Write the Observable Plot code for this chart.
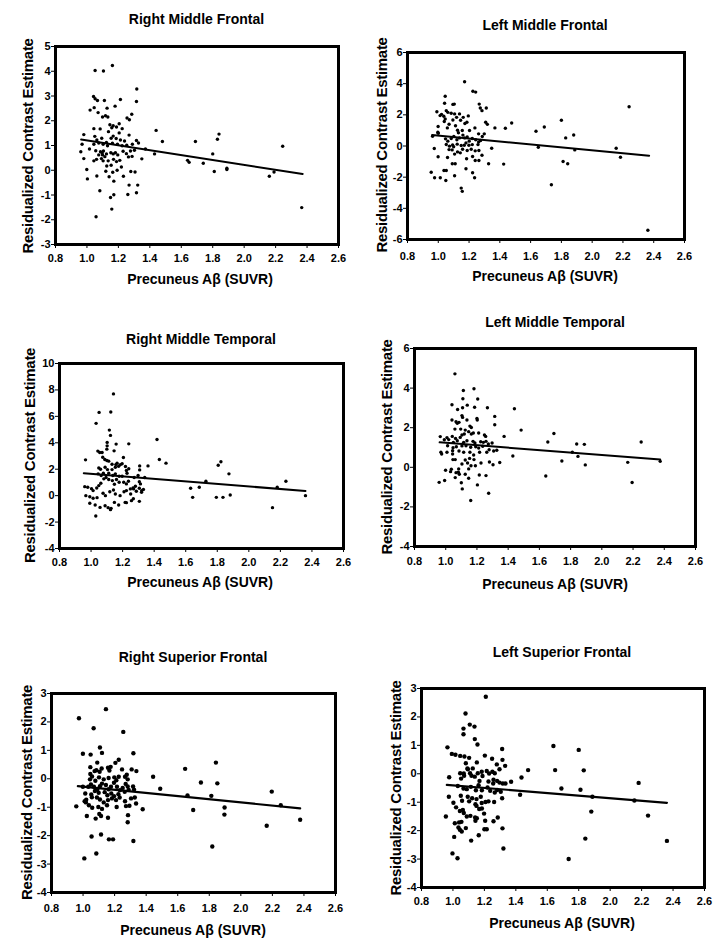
<!DOCTYPE html>
<html><head><meta charset="utf-8">
<script src="https://cdn.jsdelivr.net/npm/d3@7"></script>
<script src="https://cdn.jsdelivr.net/npm/@observablehq/plot@0.6"></script>
<style>
body{margin:0;background:#fff;}
#page{position:relative;width:724px;height:952px;overflow:hidden;background:#fff;}
#page svg.panel{position:absolute;overflow:visible;}
#overlay{position:absolute;left:0;top:0;pointer-events:none;}
</style></head><body><div id="page"></div>
<script>
// ---- shared tick labels / text ----
const xTicks = [0.8, 1.0, 1.2, 1.4, 1.6, 1.8, 2.0, 2.2, 2.4, 2.6];
const xLabel = "Precuneus Aβ (SUVR)";
const yLabel = "Residualized Contrast Estimate";
const titles = ["Right Middle Frontal", "Left Middle Frontal", "Right Middle Temporal", "Left Middle Temporal", "Right Superior Frontal", "Left Superior Frontal"];

// ---- Right Middle Frontal ----
const rmfTicks = [-3, -2, -1, 0, 1, 2, 3, 4, 5];
const rmfFit = [[0.963, 1.24], [2.372, -0.15]];
const rmfPoints = [[1.162,4.23],[1.052,4.03],[1.105,4.01],[1.317,3.28],[1.042,2.98],[1.052,2.89],[1.067,2.82],[1.111,2.82],[1.213,2.86],[1.315,2.78],[1.179,2.59],[1.128,2.51],[1.020,2.43],[1.046,2.53],[1.071,2.33],[1.285,2.26],[1.118,2.20],[1.099,2.15],[1.133,2.15],[1.255,2.11],[1.270,2.04],[1.146,1.84],[1.167,1.80],[1.205,1.88],[1.158,1.72],[1.188,1.75],[1.044,1.68],[1.084,1.67],[1.224,1.68],[1.137,1.56],[1.205,1.51],[0.980,1.44],[1.050,1.37],[1.167,1.38],[1.268,1.42],[1.315,1.20],[1.328,1.10],
[1.063,1.22],[1.094,1.29],[1.124,1.12],[1.154,1.29],[1.186,1.28],[1.213,1.22],[1.239,1.18],[1.044,1.05],[1.075,1.10],[1.103,1.05],[1.131,0.99],[1.162,1.09],[1.194,1.05],[1.224,0.99],[1.253,1.01],[1.289,1.05],[0.969,1.05],[0.961,0.75],[1.016,0.86],[1.056,0.79],[1.086,0.75],[1.097,0.70],[1.105,0.78],[1.099,0.62],[1.114,0.55],[1.075,0.62],[1.124,0.66],[1.152,0.71],[1.167,0.66],[1.181,0.71],[1.196,0.62],[1.230,0.77],[1.251,0.67],[1.277,0.78],[1.302,0.81],[0.980,0.47],[1.044,0.38],[1.061,0.44],[1.092,0.47],[1.103,0.38],[1.135,0.38],[1.169,0.44],[1.188,0.35],[1.209,0.40],[1.264,0.54],[1.287,0.56],[1.349,0.46],[0.999,0.03],[1.126,0.17],[1.154,0.20],[1.192,0.0],[1.219,0.13],[1.003,-0.35],[1.063,-0.23],[1.120,-0.04],[1.141,-0.26],[1.164,-0.08],[1.171,-0.44],[1.232,-0.24],[1.279,-0.05],[1.306,-0.07],[1.082,-0.83],[1.268,-0.60],[1.323,-0.60],[1.171,-0.99],[1.150,-1.10],[1.260,-0.98],[1.315,-0.91],[1.158,-1.57],[1.058,-1.88],
[1.372,0.86],[1.43,0.66],[1.44,1.61],[1.48,1.16],[1.64,0.40],[1.65,0.32],[1.69,1.16],[1.74,0.28],[1.80,0.66],[1.81,-0.05],[1.83,1.25],[1.84,1.46],[1.89,0.08],[1.89,0.03],[2.16,-0.24],[2.19,-0.07],[2.245,0.97],[2.366,-1.51]];

// ---- Left Middle Frontal ----
const lmfTicks = [-6, -4, -2, 0, 2, 4, 6];
const lmfFit = [[0.96, 0.70], [2.37, -0.62]];
const lmfPoints = [[1.171,4.12],[1.225,3.51],[1.243,3.46],[1.045,3.19],[1.041,2.74],[1.095,2.67],[1.104,2.69],[1.266,2.69],[1.273,2.44],[1.284,2.27],[1.312,2.44],[0.991,2.20],[1.052,2.27],[1.062,2.16],[1.021,2.03],[1.036,1.91],[1.045,1.74],[1.039,1.57],[1.084,2.10],[1.106,2.06],[1.119,1.84],[1.095,1.67],[1.138,2.06],[1.162,1.84],[1.145,1.65],[1.195,1.93],[1.173,1.44],[1.186,1.52],[0.999,1.25],[1.059,1.16],[1.070,1.40],[1.125,1.01],[1.156,0.99],[1.203,0.99],[1.238,1.16],[1.262,0.78],[1.299,0.78],[1.308,1.52],[1.319,1.39],[0.997,0.88],[0.963,0.63],[1.0,0.82],[1.047,0.46],[1.062,0.31],[1.084,0.48],[1.101,0.61],[1.121,0.40],[1.138,0.52],[1.171,0.52],[1.188,0.58],[1.201,0.31],[1.221,0.48],[1.243,0.40],[1.275,0.35],[1.286,0.61],[1.073,-0.01],[1.093,0.07],[1.123,0.12],[1.149,0.03],[1.169,0.05],[1.199,0.05],[1.221,0.09],[1.258,0.09],[1.07,-0.23],[1.09,-0.25],[0.974,-0.16],[1.158,-0.21],[1.188,-0.29],[1.214,-0.21],[1.240,-0.31],[1.264,-0.29],[1.347,-0.14],[0.999,-0.69],[1.060,-0.74],[1.106,-0.52],[1.125,-0.38],[1.143,-0.44],[1.184,-0.82],[1.223,-0.67],[1.240,-0.93],[1.264,-0.93],[1.284,-0.59],[1.091,-1.14],[1.110,-1.14],[1.327,-1.14],[1.180,-1.46],[0.954,-1.68],[0.976,-2.04],[1.013,-2.04],[1.037,-1.57],[1.052,-1.57],[1.049,-2.21],[1.106,-1.91],[1.223,-1.72],[1.236,-2.04],[1.149,-2.70],[1.156,-2.91],[1.012,1.95],[1.112,1.30],[1.131,0.85],[1.180,0.20],[1.052,0.10],[1.100,-0.05],[1.160,0.70],[1.262,0.25],
[1.368,1.16],[1.425,-1.16],[1.436,1.14],[1.477,1.48],[1.635,0.95],[1.650,-0.08],[1.689,1.22],[1.735,-2.49],[1.80,1.65],[1.811,-0.99],[1.828,0.52],[1.841,-1.14],[1.880,0.71],[1.887,-0.25],[2.156,-0.14],[2.184,-0.72],[2.240,2.52],[2.362,-5.41]];

// ---- Right Middle Temporal ----
const rmtTicks = [-4, -2, 0, 2, 4, 6, 8, 10];
const rmtFit = [[0.954, 1.70], [2.359, 0.35]];
const rmtPoints = [[1.142,7.70],[1.051,6.30],[1.125,6.33],[1.032,5.47],[1.116,4.96],[1.123,4.56],[1.239,3.92],[1.102,4.03],[1.102,3.77],[1.100,3.52],[1.159,3.90],[1.043,3.37],[1.055,3.27],[1.070,3.27],[1.146,3.39],[1.074,2.91],[1.087,2.73],[0.965,2.71],[1.205,2.89],[1.100,2.66],[1.112,2.61],[1.133,2.38],[1.157,2.35],[1.165,2.46],[1.186,2.35],[1.197,2.41],[1.218,2.20],[1.049,2.10],[1.060,2.0],[1.089,2.15],[1.104,1.97],[1.133,1.97],[1.154,2.15],[1.175,2.23],[1.224,1.90],[1.239,2.03],[1.308,2.25],[1.308,1.95],[1.045,1.65],[1.064,1.52],[1.078,1.70],[1.112,1.70],[1.138,1.52],[1.154,1.65],[1.178,1.47],[1.197,1.47],[1.228,1.70],[1.273,1.37],[1.298,1.52],[1.340,1.37],[0.960,0.68],[0.979,0.63],[1.003,0.53],[1.013,0.38],[1.036,0.58],[1.049,0.76],[1.062,0.94],[1.081,1.27],[1.095,1.37],[1.112,1.22],[1.135,1.14],[1.148,0.86],[1.161,1.22],[1.178,1.01],[1.207,1.01],[1.224,0.89],[1.237,1.09],[1.249,0.51],[1.266,0.58],[1.281,0.71],[1.306,0.56],[1.313,0.89],[1.306,1.05],[0.967,0.0],[0.992,-0.08],[1.013,-0.20],[1.038,-0.15],[1.076,0.18],[1.091,0.0],[1.119,0.30],[1.142,0.43],[1.154,0.13],[1.184,0.0],[1.209,0.30],[1.224,0.38],[1.251,0.13],[1.270,0.51],[1.287,0.33],[1.321,0.38],[1.332,0.46],[0.992,-0.58],[1.026,-0.71],[1.057,-0.89],[1.089,-0.76],[1.108,-0.91],[1.127,-0.96],[1.148,-0.51],[1.175,-0.71],[1.216,-0.51],[1.224,-0.53],[1.256,-0.38],[1.268,-0.23],[1.306,-0.43],[1.030,-1.54],[1.32,0.25],[1.123,-1.06],
[1.361,2.25],[1.418,4.25],[1.433,2.73],[1.475,2.46],[1.631,0.56],[1.644,-0.13],[1.686,0.63],[1.728,1.09],[1.794,-0.13],[1.806,2.30],[1.823,2.56],[1.836,-0.13],[1.874,1.65],[1.882,0.05],[2.150,-0.91],[2.180,0.63],[2.235,1.09],[2.359,0.0]];

// ---- Left Middle Temporal ----
const lmtTicks = [-4, -2, 0, 2, 4, 6];
const lmtFit = [[0.961, 1.26], [2.374, 0.40]];
const lmtPoints = [[1.059,4.72],[1.113,3.88],[1.181,3.97],[1.110,3.46],[1.205,3.45],[1.040,3.16],[1.076,2.92],[1.108,3.01],[1.138,3.14],[1.185,3.03],[1.267,3.01],[1.104,2.61],[1.108,2.52],[1.200,2.47],[1.202,2.39],[1.314,2.57],[1.314,2.15],[1.040,2.39],[1.066,2.30],[1.074,2.22],[1.085,2.27],[1.136,2.39],[1.155,2.08],[1.164,2.01],[1.059,1.93],[1.096,1.93],[1.125,1.88],[1.147,1.80],[1.177,1.73],[1.211,1.73],[0.965,1.55],[1.008,1.50],[1.042,1.56],[1.063,1.46],[1.093,1.51],[1.104,1.63],[1.119,1.68],[1.164,1.68],[1.248,1.63],[1.256,1.56],[0.991,1.39],[1.019,1.40],[1.049,1.26],[1.074,1.34],[1.115,1.26],[1.136,1.34],[1.175,1.31],[1.187,1.23],[1.224,1.29],[1.241,1.26],[1.258,1.31],[1.273,1.18],[1.297,1.23],[1.012,1.09],[1.047,0.99],[1.068,1.04],[1.104,1.08],[1.130,1.09],[1.160,1.01],[1.192,1.04],[1.211,0.97],[1.237,1.06],[1.278,0.89],[1.307,0.82],[1.327,0.86],[0.969,0.76],[0.974,0.67],[1.008,0.76],[1.044,0.84],[1.044,0.67],[1.085,0.82],[1.115,0.76],[1.155,0.76],[1.179,0.62],[1.217,0.76],[1.263,0.76],[1.046,0.39],[1.061,0.39],[1.125,0.37],[1.153,0.45],[1.181,0.39],[1.226,0.22],[1.280,0.27],[1.104,0.17],[1.140,0.22],[1.162,0.08],[1.190,0.08],[0.999,-0.15],[1.036,-0.10],[1.083,-0.08],[1.147,-0.08],[1.303,0.13],[1.031,-0.22],[1.066,-0.27],[1.087,-0.35],[1.125,-0.35],[1.215,-0.39],[1.258,-0.42],[0.958,-0.76],[0.993,-0.67],[1.061,-0.52],[1.081,-0.25],[1.100,-0.78],[1.147,-0.55],[1.203,-0.89],[1.275,-1.31],[1.106,-1.09],[1.160,-1.68],
[1.374,1.56],[1.346,0.24],[1.430,0.57],[1.440,2.96],[1.483,1.88],[1.641,-0.44],[1.654,1.28],[1.693,1.71],[1.744,0.32],[1.811,0.76],[1.839,1.18],[1.847,0.55],[1.888,1.16],[1.894,0.12],[2.166,0.25],[2.194,-0.77],[2.252,1.28],[2.374,0.30]];

// ---- Right Superior Frontal ----
const rsfTicks = [-4, -3, -2, -1, 0, 1, 2, 3];
const rsfFit = [[0.967, -0.26], [2.376, -1.04]];
const rsfPoints = [[1.145,2.45],[0.974,2.13],[1.067,1.78],[1.255,1.65],[1.107,1.10],[1.120,0.91],[0.999,0.88],[1.048,0.85],[1.319,0.90],[1.090,0.57],[1.158,0.39],[1.046,0.41],[1.226,0.67],[1.205,0.56],[1.073,0.27],[1.084,0.30],[1.046,0.17],[1.057,0.08],[1.105,0.25],[1.118,0.36],[1.167,0.29],[1.175,0.42],[1.247,0.33],[1.308,0.33],[1.338,0.27],[1.044,-0.02],[1.078,-0.07],[1.101,0.05],[1.131,-0.02],[1.162,0.03],[1.198,0.05],[1.211,-0.05],[1.226,0.07],[1.266,0.07],[1.283,-0.02],[1.277,0.14],[0.999,-0.28],[1.033,-0.28],[1.050,-0.20],[1.069,-0.28],[1.090,-0.38],[1.107,-0.26],[1.120,-0.17],[1.145,-0.22],[1.162,-0.37],[1.177,-0.28],[1.196,-0.14],[1.215,-0.28],[1.234,-0.40],[1.251,-0.32],[1.270,-0.18],[1.283,-0.27],[1.317,-0.27],[1.014,-0.52],[1.052,-0.55],[1.075,-0.43],[1.099,-0.49],[1.137,-0.47],[1.154,-0.58],[1.179,-0.52],[1.196,-0.61],[1.224,-0.54],[1.264,-0.46],[1.289,-0.39],[1.323,-0.38],[1.020,-0.74],[1.010,-0.79],[1.056,-0.65],[1.088,-0.66],[1.107,-0.73],[1.131,-0.83],[1.158,-0.75],[1.183,-0.69],[1.209,-0.75],[1.232,-0.66],[1.266,-0.79],[1.304,-0.69],[1.328,-0.66],[0.957,-0.97],[1.018,-0.83],[1.037,-0.93],[1.058,-1.02],[1.097,-0.99],[1.120,-1.06],[1.152,-0.93],[1.213,-0.99],[1.272,-0.96],[1.294,-0.95],[1.336,-0.87],[1.024,-1.31],[1.080,-1.40],[1.103,-1.24],[1.114,-1.31],[1.158,-1.37],[1.285,-1.28],[1.283,-1.53],[1.054,-2.03],[1.114,-1.96],[1.164,-2.13],[1.190,-2.13],[1.319,-2.19],[1.008,-2.80],[1.084,-2.63],
[1.378,-1.07],[1.444,0.07],[1.489,-0.35],[1.647,0.35],[1.662,-0.59],[1.698,-1.10],[1.747,-0.13],[1.813,-0.60],[1.819,-2.38],[1.842,0.57],[1.851,-0.16],[1.896,-1.26],[1.897,-1.01],[2.164,-1.65],[2.196,-0.45],[2.253,-0.93],[2.376,-1.44]];

// ---- Left Superior Frontal ----
const lsfTicks = [-4, -3, -2, -1, 0, 1, 2, 3];
const lsfFit = [[0.961, -0.39], [2.361, -1.02]];
const lsfPoints = [[1.209,2.71],[1.080,2.12],[1.107,1.73],[1.137,1.66],[1.067,1.59],[1.067,1.39],[1.139,1.22],[1.156,1.03],[0.965,0.93],[0.993,0.70],[1.016,0.67],[1.046,0.63],[1.073,0.61],[1.103,0.56],[1.203,0.64],[1.249,0.53],[1.313,0.87],[1.315,0.49],[1.332,0.28],[1.279,0.33],[1.082,0.37],[1.092,0.19],[1.152,0.40],[1.046,0.02],[1.069,0.01],[1.095,0.16],[1.109,0.02],[1.126,0.19],[1.158,0.02],[1.183,0.07],[1.215,0.10],[1.230,0.01],[1.251,0.07],[1.266,0.02],[1.296,0.16],[0.976,-0.12],[1.052,-0.17],[1.071,-0.07],[1.118,-0.07],[1.139,-0.10],[1.169,-0.25],[1.188,-0.08],[1.226,-0.27],[1.258,-0.21],[1.281,-0.25],[1.296,-0.31],[1.317,-0.34],[1.334,-0.34],[1.031,-0.43],[1.067,-0.52],[1.088,-0.54],[1.114,-0.46],[1.146,-0.58],[1.163,-0.40],[1.184,-0.58],[1.220,-0.48],[1.237,-0.60],[1.256,-0.34],[1.266,-0.66],[1.281,-0.57],[1.304,-0.63],[0.974,-0.81],[1.050,-0.77],[1.094,-0.81],[1.122,-0.86],[1.150,-0.89],[1.177,-0.81],[1.207,-0.99],[1.058,-0.95],[1.103,-0.97],[1.143,-1.07],[1.183,-1.03],[1.226,-0.97],[1.262,-0.99],[1.313,-0.86],[1.003,-1.02],[1.150,-1.13],[1.167,-1.24],[1.184,-1.22],[1.020,-1.18],[1.063,-1.27],[1.044,-1.31],[1.069,-1.38],[1.088,-1.50],[1.111,-1.48],[1.141,-1.54],[1.198,-1.40],[1.285,-1.54],[0.955,-1.50],[1.012,-1.74],[1.039,-1.71],[1.054,-1.69],[1.143,-1.65],[1.152,-1.56],[1.205,-1.65],[1.258,-1.67],[1.035,-1.89],[1.044,-1.97],[1.056,-2.03],[1.082,-1.91],[1.164,-2.16],[1.200,-1.95],[1.215,-1.95],[1.315,-1.92],[1.008,-2.22],[1.116,-2.35],[1.321,-2.63],[0.997,-2.80],[1.029,-2.97],
[1.370,-0.28],[1.427,-0.74],[1.436,-0.13],[1.478,0.13],[1.639,0.98],[1.650,0.13],[1.690,-0.52],[1.736,-3.0],[1.800,0.84],[1.811,-0.56],[1.832,0.12],[1.842,-2.28],[1.880,-1.33],[1.887,-0.81],[2.154,-0.94],[2.181,-0.32],[2.241,-1.47],[2.361,-2.36]];

// ---- layout (frame box in page px: left, top, right, bottom) ----
const layout = [
  {points: rmfPoints, fit: rmfFit, yTicks: rmfTicks, frame: [55, 46, 338, 244], title: [196.5, 24], xlab: [200, 284], ylab: [33, 146], xPad: 6, r: 1.7, lw: 2},
  {points: lmfPoints, fit: lmfFit, yTicks: lmfTicks, frame: [407, 52, 684, 239], title: [545, 30], xlab: [545, 281], ylab: [387, 145], xPad: 9, r: 1.7, lw: 2},
  {points: rmtPoints, fit: rmtFit, yTicks: rmtTicks, frame: [59, 363, 343, 548], title: [201, 344], xlab: [200, 587], ylab: [35, 455.5], xPad: 6, r: 1.7, lw: 2},
  {points: lmtPoints, fit: lmtFit, yTicks: lmtTicks, frame: [414, 348, 695, 546], title: [555, 327], xlab: [555, 589], ylab: [392, 447], xPad: 7, r: 1.7, lw: 2},
  {points: rsfPoints, fit: rsfFit, yTicks: rsfTicks, frame: [51, 693, 335, 892], title: [193, 662], xlab: [193, 935], ylab: [32, 792.5], xPad: 7.5, r: 2.2, lw: 2.2},
  {points: lsfPoints, fit: lsfFit, yTicks: lsfTicks, frame: [421, 688, 704, 887], title: [562, 657], xlab: [562, 928], ylab: [401, 788], xPad: 6, r: 2.2, lw: 2.2}
];

const FONT = "'Liberation Sans', Arial, Helvetica, sans-serif";
const page = document.getElementById("page");
const ML = 34, MR = 10, MT = 10, MB = 30;

layout.forEach((p) => {
  const [l, t, r, b] = p.frame;
  const w = r - l, h = b - t;
  const yDom = [p.yTicks[0], p.yTicks[p.yTicks.length - 1]];
  const chart = Plot.plot({
    width: w + ML + MR, height: h + MT + MB,
    marginLeft: ML, marginRight: MR, marginTop: MT, marginBottom: MB,
    style: {fontFamily: FONT, fontSize: "11px", fontWeight: "bold", background: "transparent", color: "#000", overflow: "visible"},
    x: {domain: [0.8, 2.6]},
    y: {domain: yDom},
    marks: [
      Plot.dot(p.points, {x: d => d[0], y: d => d[1], r: p.r, fill: "#000", stroke: "none"}),
      Plot.line(p.fit, {x: d => d[0], y: d => d[1], stroke: "#000", strokeWidth: p.lw}),
      Plot.axisX({ticks: xTicks, tickFormat: d => d.toFixed(1), tickSize: 4, tickPadding: p.xPad, label: null, stroke: "#000", fill: "#000", fontWeight: "bold", fontSize: 11}),
      Plot.axisY({ticks: p.yTicks, tickFormat: d => String(d), tickSize: 4, tickPadding: 1, label: null, stroke: "#000", fill: "#000", fontWeight: "bold", fontSize: 11}),
      Plot.frame({stroke: "#000", strokeWidth: 3})
    ]
  });
  chart.classList.add("panel");
  chart.style.left = (l - ML) + "px";
  chart.style.top = (t - MT) + "px";
  page.appendChild(chart);
});

// ---- text overlay: titles and axis labels ----
const svg = d3.select(page).append("svg").attr("id", "overlay")
  .attr("width", 724).attr("height", 952)
  .style("font-family", FONT).style("font-weight", "bold").style("font-size", "14px");
layout.forEach((p, i) => {
  svg.append("text").attr("x", p.title[0]).attr("y", p.title[1]).attr("text-anchor", "middle").text(titles[i]);
  svg.append("text").attr("x", p.xlab[0]).attr("y", p.xlab[1]).attr("text-anchor", "middle").text(xLabel);
  svg.append("text").attr("transform", `translate(${p.ylab[0]},${p.ylab[1]}) rotate(-90)`).attr("text-anchor", "middle")
    .style("font-size", "15px").style("letter-spacing", "-0.3px").text(yLabel);
});
</script>
</body></html>
